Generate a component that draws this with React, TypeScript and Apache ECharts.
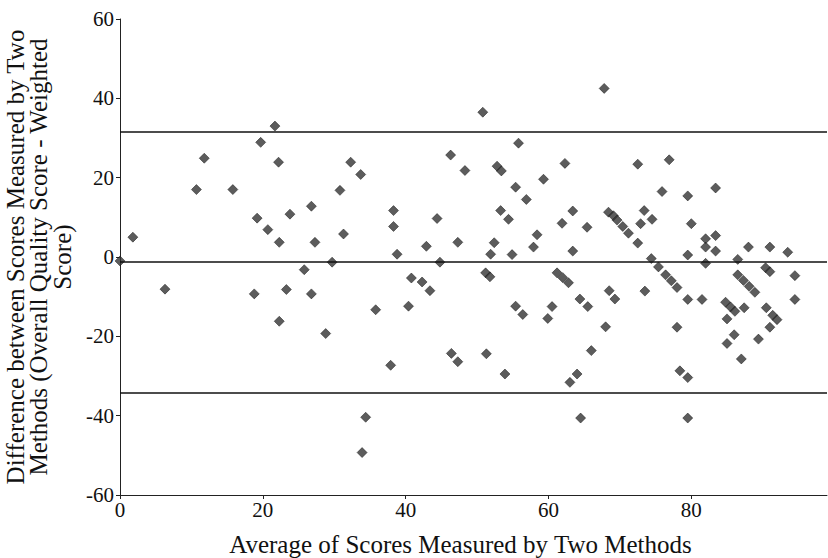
import React, { useEffect, useRef } from "react";
import * as echarts from "echarts";

// Average of the two scores (x) and their difference (y)
const avgScores = [
  0, 1.8, 6.3, 11.8, 10.7, 15.8, 21.7, 19.7, 22.2, 32.3,
  33.7, 30.8, 26.8, 23.8, 19.2, 20.7, 22.3, 27.3, 31.3, 29.7,
  25.8, 18.8, 23.3, 26.8, 22.3, 28.8, 34.4, 33.9, 50.8, 46.3,
  48.3, 38.3, 38.3, 44.4, 42.9, 47.3, 38.8, 44.8, 51.9, 40.8,
  42.3, 43.4, 35.8, 40.4, 51.2, 51.8, 37.9, 46.4, 47.3, 51.3,
  67.8, 55.8, 52.8, 53.4, 62.3, 59.3, 55.4, 56.9, 53.3, 54.4,
  63.4, 61.9, 65.4, 68.4, 69.1, 58.4, 57.9, 52.4, 54.9, 63.4,
  61.2, 62.0, 62.8, 64.4, 65.5, 68.5, 69.3, 55.4, 56.4, 60.5,
  59.9, 68.0, 66.0, 53.9, 64.0, 63.0, 64.5, 72.5, 76.9, 75.9,
  79.5, 83.4, 73.4, 74.5, 72.9, 69.6, 70.4, 71.2, 72.5, 80.0,
  82.0, 82.0, 83.4, 83.4, 79.5, 82.0, 74.4, 75.4, 76.4, 77.2,
  78.0, 79.5, 81.5, 73.5, 78.0, 78.4, 79.5, 79.5, 88.0, 91.0,
  93.5, 86.5, 90.4, 91.0, 94.5, 86.5, 87.3, 88.1, 88.9, 94.5,
  84.8, 85.5, 86.1, 87.4, 85.0, 90.5, 91.4, 92.0, 91.0, 86.0,
  85.0, 89.4, 87.0,
];
const diffScores = [
  -1.0, 5.0, -8.1, 24.9, 17.0, 17.0, 33.0, 28.9, 23.9, 23.9,
  20.8, 16.8, 12.8, 10.8, 9.8, 6.9, 3.7, 3.7, 5.8, -1.3,
  -3.2, -9.3, -8.2, -9.3, -16.2, -19.3, -40.4, -49.3, 36.5, 25.7,
  21.8, 11.7, 7.7, 9.7, 2.7, 3.7, 0.7, -1.3, 0.7, -5.3,
  -6.3, -8.5, -13.3, -12.4, -4.0, -5.0, -27.3, -24.3, -26.4, -24.4,
  42.5, 28.7, 22.9, 21.7, 23.6, 19.6, 17.6, 14.5, 11.7, 9.5,
  11.6, 8.5, 7.5, 11.3, 10.4, 5.6, 2.5, 3.6, 0.6, 1.5,
  -4.0, -5.2, -6.5, -10.6, -12.5, -8.5, -10.6, -12.4, -14.5, -12.5,
  -15.5, -17.6, -23.6, -29.5, -29.5, -31.6, -40.6, 23.4, 24.5, 16.5,
  15.4, 17.4, 11.7, 9.5, 8.4, 9.3, 7.7, 6.0, 3.5, 8.4,
  4.6, 2.5, 5.4, 1.5, 0.5, -1.6, -0.4, -2.5, -4.5, -6.0,
  -7.7, -10.7, -10.7, -8.6, -17.7, -28.7, -30.4, -40.6, 2.5, 2.5,
  1.2, -0.6, -2.7, -3.7, -4.7, -4.5, -5.9, -7.4, -8.9, -10.7,
  -11.4, -12.6, -13.7, -12.8, -15.6, -12.8, -14.7, -15.8, -17.7, -19.6,
  -21.8, -20.7, -25.7,
];

// Mean difference and limits of agreement
const upperLimit = 31.7;
const meanDiff = -1.3;
const lowerLimit = -34.2;

const xTicks = [0, 20, 40, 60, 80];

const xTitle = "Average of Scores Measured by Two Methods";
const yTitleLines = [
  "Difference between Scores Measured by Two",
  "Methods (Overall Quality Score - Weighted",
  "Score)",
];

const FONT = "'Liberation Serif', 'DejaVu Serif', serif";

export default function App() {
  const ref = useRef<HTMLDivElement>(null);

  useEffect(() => {
    if (!ref.current) return;
    const chart = echarts.init(ref.current, null, { renderer: "svg" });
    const points = avgScores.map((x, i) => [x, diffScores[i]]);
    chart.setOption({
      animation: false,
      backgroundColor: "#ffffff",
      grid: {
        left: 120,
        right: 1,
        top: 19,
        bottom: 63,
        outerBoundsMode: "none",
      },
      xAxis: {
        type: "value",
        min: 0,
        max: 99,
        interval: 20,
        name: xTitle,
        nameLocation: "middle",
        nameGap: 37,
        nameTextStyle: { fontFamily: FONT, fontSize: 25, color: "#111", padding: [0, 26, 0, 0] },
        splitLine: { show: false },
        axisLine: { show: true, onZero: false, lineStyle: { color: "#222", width: 1 } },
        axisTick: { show: true, inside: false, length: 4, customValues: xTicks, lineStyle: { color: "#222" } },
        axisLabel: {
          customValues: xTicks,
          fontFamily: FONT,
          fontSize: 21,
          color: "#111",
          margin: 4,
        },
      },
      yAxis: {
        type: "value",
        min: -60,
        max: 60,
        interval: 20,
        name: yTitleLines.join("\n"),
        nameLocation: "middle",
        nameRotate: 90,
        nameGap: 46,
        nameTextStyle: { fontFamily: FONT, fontSize: 25, color: "#111", lineHeight: 23.5, align: "center" },
        splitLine: { show: false },
        axisLine: { show: true, lineStyle: { color: "#222", width: 1 } },
        axisTick: { show: true, inside: false, length: 4, lineStyle: { color: "#222" } },
        axisLabel: { fontFamily: FONT, fontSize: 21, color: "#111", margin: 6 },
      },
      series: [
        {
          type: "scatter",
          data: points,
          symbol: "diamond",
          symbolSize: 10,
          itemStyle: { color: "#333333", borderColor: "#111111", borderWidth: 0.6 },
          markLine: {
            silent: true,
            symbol: "none",
            label: { show: false },
            lineStyle: { color: "#111111", width: 1.6, type: "solid" },
            data: [{ yAxis: upperLimit }, { yAxis: meanDiff }, { yAxis: lowerLimit }],
          },
        },
      ],
    });
    return () => chart.dispose();
  }, []);

  return (
    <div
      ref={ref}
      style={{ position: "fixed", left: 0, top: 0, width: 828, height: 558, background: "#fff" }}
    />
  );
}
